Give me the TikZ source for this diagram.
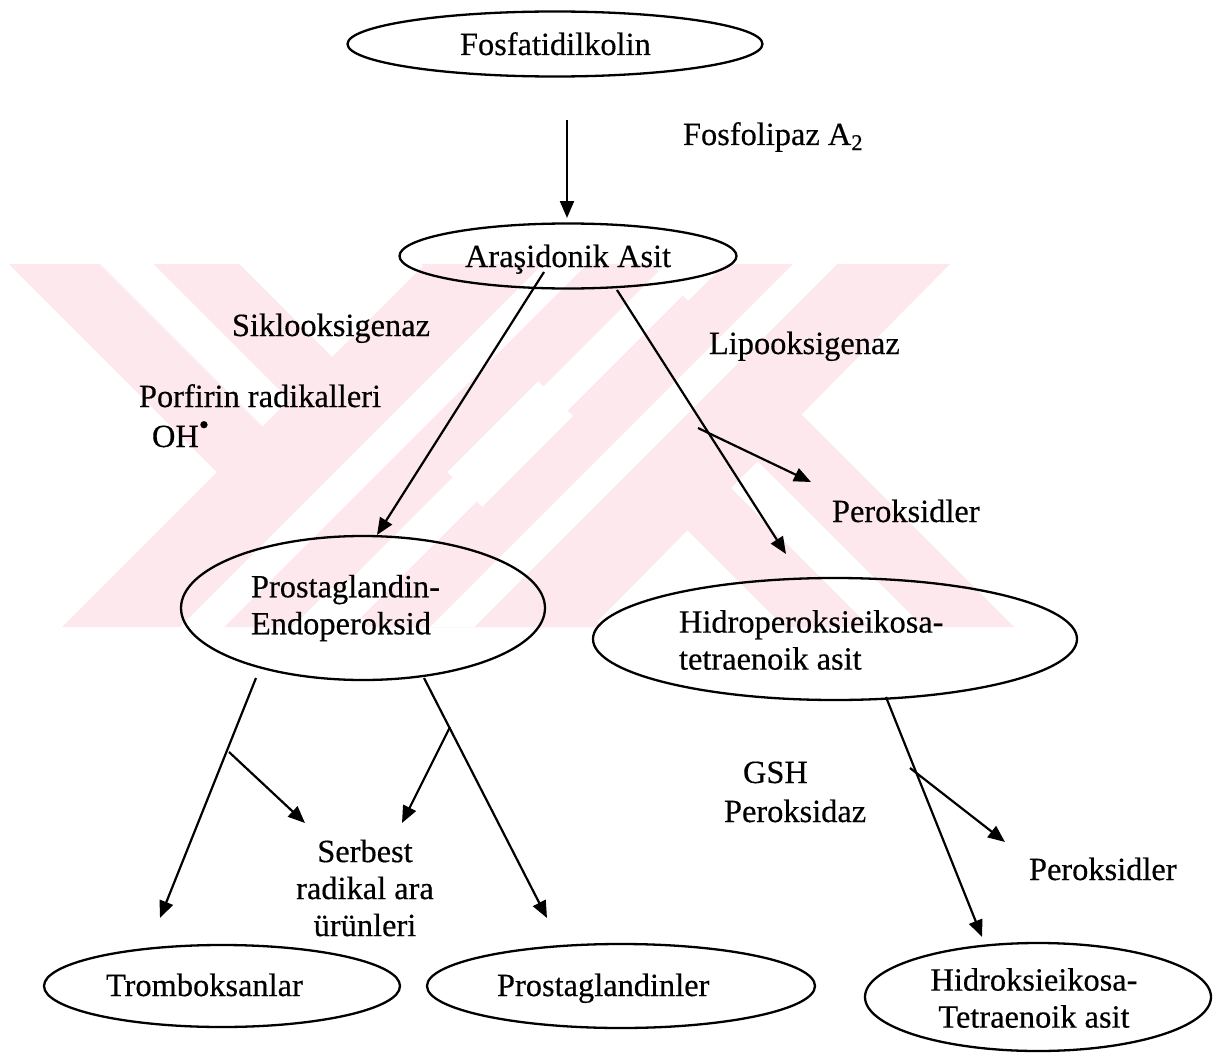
\documentclass[tikz,border=0pt]{standalone}
\usepackage{fontspec}
\setmainfont{Liberation Serif}[FakeBold=0.4]
\usetikzlibrary{shapes.geometric,arrows.meta}
\definecolor{wmpink}{RGB}{253,233,237}
\begin{document}
\begin{tikzpicture}[x=0.5pt,y=-0.5pt,
  every node/.append style={font=\fontsize{16.2pt}{18.5pt}\selectfont, inner sep=0pt, outer sep=0pt},
  ellnode/.style={draw, ellipse, line width=1.15pt},
  flow/.style={line width=1.1pt, -{Triangle[length=8.5pt,width=7pt]}},
  wmband/.style={fill=wmpink},
  wmgap/.style={fill=white}]
\useasboundingbox (0,0) rectangle (1216,1054);
\fill[white] (0,0) rectangle (1216,1054);
% ---- watermark ----
\fill[wmband] (9,264) -- (239,264) -- (602,627) -- (372,627) -- cycle;
\fill[wmband] (421,264) -- (651,264) -- (1014,627) -- (784,627) -- cycle;
\fill[wmgap] (666,264) -- (714,264) -- (351,627) -- (303,627) -- cycle;
\fill[wmgap] (100,264) -- (153,264) -- (289,400) -- (262.5,426.5) -- cycle;
\fill[wmgap] (870,627) -- (923,627) -- (757.5,461.5) -- (731,488) -- cycle;
\fill[wmband] (425,264) -- (655,264) -- (292,627) -- (62,627) -- cycle;
\fill[wmband] (725,264) -- (950,264) -- (592,627) -- (362,627) -- cycle;
\fill[wmgap] (543,264) -- (587,264) -- (224,627) -- (180,627) -- cycle;
\fill[wmgap] (793,264) -- (837,264) -- (474,627) -- (430,627) -- cycle;
% ---- ellipses ----
\node[ellnode, minimum width=207.5pt, minimum height=32.5pt] (fos) at (555,44) {};
\node[ellnode, minimum width=168.5pt, minimum height=32.5pt] (ara) at (568,256) {};
\node[ellnode, minimum width=182pt, minimum height=72pt] (pge) at (363,608) {};
\node[ellnode, minimum width=242pt, minimum height=61pt] (hpe) at (835,639) {};
\node[ellnode, minimum width=178pt, minimum height=41pt] (trm) at (222,986) {};
\node[ellnode, minimum width=194pt, minimum height=42pt] (pgl) at (621,986) {};
\node[ellnode, minimum width=173pt, minimum height=54pt] (hee) at (1038,997) {};
% ---- texts ----
\node[anchor=base west] (tFos) at (460,55) {Fosfatidilkolin};
\node[anchor=base west] (tFpl) at (683,145) {Fosfolipaz A\textsubscript{2}};
\node[anchor=base west] (tAra) at (465,267) {Araşidonik Asit};
\node[anchor=base west] (tSik) at (232,336) {Siklooksigenaz};
\node[anchor=base west] (tPor) at (139,407) {Porfirin radikalleri};
\node[anchor=base west] (tOH) at (152,447) {OH\textsuperscript{\smash{\scalebox{1.3}{\textbullet}}}};
\node[anchor=base west] (tLip) at (709,354) {Lipooksigenaz};
\node[anchor=base west] (tPer1) at (832,522) {Peroksidler};
\node[anchor=west, align=left] (tPGE) at (251,608) {Prostaglandin-\\Endoperoksid};
\node[anchor=west, align=left] (tHPE) at (679,640) {Hidroperoksieikosa-\\tetraenoik asit};
\node[align=center] (tSer) at (365,888) {Serbest\\radikal ara\\ürünleri};
\node[anchor=base west] (tGSH) at (743,783) {GSH};
\node[anchor=base west] (tPxd) at (724,822) {Peroksidaz};
\node[anchor=base west] (tPer2) at (1029,880) {Peroksidler};
\node[anchor=base west] (tTrm) at (106,996) {Tromboksanlar};
\node[anchor=base west] (tPgl) at (497,996) {Prostaglandinler};
\node[align=center] (tHE) at (1034,998) {Hidroksieikosa-\\Tetraenoik asit};
% ---- connector ends ----
\coordinate (a1s) at (567,120);  \coordinate (a1e) at (567,218);
\coordinate (a2s) at (544,272);  \coordinate (a2e) at (377,535);
\coordinate (a3s) at (617,290);  \coordinate (a3e) at (786,554);
\coordinate (a4s) at (698,428);  \coordinate (a4e) at (811,482);
\coordinate (a5s) at (256,678);  \coordinate (a5e) at (160,918);
\coordinate (a6s) at (229,752);  \coordinate (a6e) at (305,823);
\coordinate (a7s) at (424,678);  \coordinate (a7e) at (547,918);
\coordinate (a8s) at (450,727);  \coordinate (a8e) at (402,823);
\coordinate (a9s) at (886,697);  \coordinate (a9e) at (982,937);
\coordinate (a10s) at (910,768); \coordinate (a10e) at (1005,842);
% ---- connectors ----
\draw[flow] (a1s) -- (a1e);
\draw[flow] (a2s) -- (a2e);
\draw[flow] (a3s) -- (a3e);
\draw[flow] (a4s) -- (a4e);
\draw[flow] (a5s) -- (a5e);
\draw[flow] (a6s) -- (a6e);
\draw[flow] (a7s) -- (a7e);
\draw[flow] (a8s) -- (a8e);
\draw[flow] (a9s) -- (a9e);
\draw[flow] (a10s) -- (a10e);
\end{tikzpicture}
\end{document}
